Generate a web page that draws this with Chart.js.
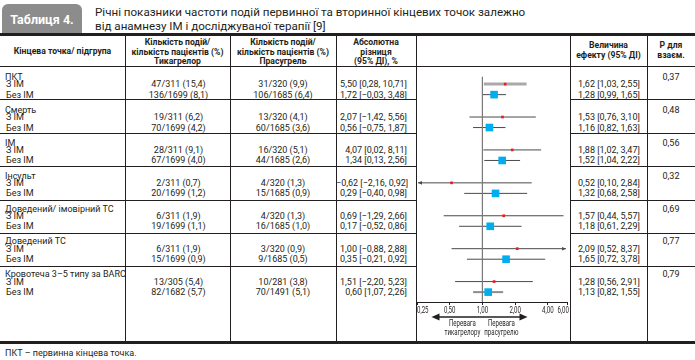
<!DOCTYPE html>
<html>
<head>
<meta charset="utf-8">
<script src="https://cdn.jsdelivr.net/npm/chart.js@4.4.0/dist/chart.umd.min.js"></script>
<style>
  body { margin: 0; background: #fff; }
  #page { position: relative; width: 695px; height: 360px; overflow: hidden;
          font-family: Roboto, 'Noto Sans', sans-serif; color: #231f20; }
  .t { position: absolute; white-space: nowrap; font-size: 9px; line-height: 10px; }
  .h { font-weight: bold; text-align: center; font-size: 8.6px; line-height: 9.6px; }
  .ln { position: absolute; background: #231f20; }
  #badge { position: absolute; left: 2px; top: 4px; width: 80px; height: 29px; background: #8c8c8c;
           border-radius: 6px 6px 0 0; color: #fff; font-weight: bold; font-size: 12.5px;
           line-height: 31px; text-align: center; }
  #title { position: absolute; left: 95px; top: 5px; font-size: 11.6px; line-height: 14px; color: #231f20; }
  #chart { position: absolute; left: 0; top: 0; }
</style>
</head>
<body>
<div id="page">
  <div id="badge">Таблиця 4.</div>
  <div id="title">Річні показники частоти подій первинної та вторинної кінцевих точок залежно<br>від анамнезу ІМ і досліджуваної терапії [9]</div>
  <canvas id="chart" width="695" height="360"></canvas>
</div>
<script>
// ---- data ----
const endpoints = ['ПКТ', 'Смерть', 'ІМ', 'Інсульт', 'Доведений/ імовірний ТС', 'Доведений ТС', 'Кровотеча 3–5 типу за BARC'];
const subgroups = ['З ІМ', 'Без ІМ'];
const ticagrelorEvents = ['47/311 (15,4)', '136/1699 (8,1)', '19/311 (6,2)', '70/1699 (4,2)', '28/311 (9,1)', '67/1699 (4,0)',
  '2/311 (0,7)', '20/1699 (1,2)', '6/311 (1,9)', '19/1699 (1,1)', '6/311 (1,9)', '15/1699 (0,9)', '13/305 (5,4)', '82/1682 (5,7)'];
const prasugrelEvents = ['31/320 (9,9)', '106/1685 (6,4)', '13/320 (4,1)', '60/1685 (3,6)', '16/320 (5,1)', '44/1685 (2,6)',
  '4/320 (1,3)', '15/1685 (0,9)', '4/320 (1,3)', '16/1685 (1,0)', '3/320 (0,9)', '9/1685 (0,5)', '10/281 (3,8)', '70/1491 (5,1)'];
const absDiff = ['5,50 [0,28, 10,71]', '1,72 [−0,03, 3,48]', '2,07 [−1,42, 5,56]', '0,56 [−0,75, 1,87]', '4,07 [0,02, 8,11]',
  '1,34 [0,13, 2,56]', '−0,62 [−2,16, 0,92]', '0,29 [−0,40, 0,98]', '0,69 [−1,29, 2,66]', '0,17 [−0,52, 0,86]',
  '1,00 [−0,88, 2,88]', '0,35 [−0,21, 0,92]', '1,51 [−2,20, 5,23]', '0,60 [1,07, 2,26]'];
const hrMid  = [1.62, 1.28, 1.53, 1.16, 1.88, 1.52, 0.52, 1.32, 1.57, 1.18, 2.09, 1.65, 1.28, 1.13];
const hrLow  = [1.03, 0.99, 0.76, 0.82, 1.02, 1.04, 0.10, 0.68, 0.44, 0.61, 0.52, 0.72, 0.56, 0.82];
const hrHigh = [2.55, 1.65, 3.10, 1.63, 3.47, 2.22, 2.84, 2.58, 5.57, 2.29, 8.37, 3.78, 2.91, 1.55];
const pInteraction = ['0,37', '0,48', '0,56', '0,32', '0,69', '0,77', '0,79'];
const xTicks = [0.25, 0.5, 1, 2, 4, 6];
const refValue = 1;

// ---- layout / style ----
const yMax = 7.17;
const titleOffset = 0.33, subOffset = [0.55, 0.87];
const pointColor = ['#ed1c24', '#00aeef'];
const pointSize = [1.9, 5.4];
const whiskerColor = i => i === 0 ? '#a9a9a9' : (i === 13 ? '#8c8c8c' : '#4a4a4a');
const whiskerWidth = i => i === 0 ? 3 : (i === 13 ? 2 : 1);
const fmt = v => v.toFixed(2).replace('.', ',');

const pts = [];
endpoints.forEach((e, g) => subgroups.forEach((s, k) => {
  const i = g * 2 + k;
  pts.push({ x: hrMid[i], y: g + subOffset[k] });
}));

// condensed text (the print uses a narrow face)
function narrowText(ctx, str, x, y, sx) {
  ctx.save();
  ctx.translate(x, y);
  ctx.scale(sx, 1);
  ctx.fillText(str, 0, 0);
  ctx.restore();
}

const whiskers = {
  id: 'whiskers',
  beforeDatasetsDraw(chart) {
    const { ctx, scales: { x, y } } = chart;
    ctx.save();
    hrMid.forEach((m, i) => {
      const yy = y.getPixelForValue(Math.floor(i / 2) + subOffset[i % 2]);
      const lo = Math.max(hrLow[i], x.min), hi = Math.min(hrHigh[i], x.max);
      const x0 = x.getPixelForValue(lo) + (hrLow[i] < x.min ? 1 : 0);
      const x1 = x.getPixelForValue(hi) - (hrHigh[i] > x.max ? 1 : 0);
      ctx.strokeStyle = whiskerColor(i);
      ctx.fillStyle = whiskerColor(i);
      ctx.lineWidth = whiskerWidth(i);
      ctx.beginPath(); ctx.moveTo(x0, yy); ctx.lineTo(x1, yy); ctx.stroke();
      if (hrLow[i] < x.min) {
        ctx.beginPath(); ctx.moveTo(x0, yy); ctx.lineTo(x0 + 4, yy - 1.8); ctx.lineTo(x0 + 4, yy + 1.8); ctx.fill();
      }
      if (hrHigh[i] > x.max) {
        ctx.beginPath(); ctx.moveTo(x1, yy); ctx.lineTo(x1 - 4, yy - 1.8); ctx.lineTo(x1 - 4, yy + 1.8); ctx.fill();
      }
    });
    ctx.restore();
  },
  afterDraw(chart) {
    const { ctx, chartArea, scales: { x } } = chart;
    ctx.save();
    ctx.fillStyle = '#231f20';
    ctx.textBaseline = 'middle';
    ctx.font = '8.5px Roboto, sans-serif';
    // tick labels from the scale's own ticks
    x.ticks.forEach((t, i) => {
      const px = x.getPixelForValue(t.value);
      ctx.textAlign = i === 0 ? 'left' : (i === x.ticks.length - 1 ? 'right' : 'center');
      narrowText(ctx, fmt(t.value), px + (i === x.ticks.length - 1 ? 2 : 0), chartArea.bottom + 8.5, 0.72);
    });
    // direction arrow and captions
    const c = x.getPixelForValue(refValue);
    const ay = chartArea.bottom + 15;
    const a0 = x.getPixelForValue(0.34), a1 = x.getPixelForValue(2.6);
    ctx.strokeStyle = '#231f20'; ctx.lineWidth = 1.6;
    ctx.beginPath(); ctx.moveTo(a0 + 5, ay); ctx.lineTo(a1 - 5, ay); ctx.stroke();
    ctx.beginPath(); ctx.moveTo(a0, ay); ctx.lineTo(a0 + 8, ay - 3.5); ctx.lineTo(a0 + 8, ay + 3.5); ctx.fill();
    ctx.beginPath(); ctx.moveTo(a1, ay); ctx.lineTo(a1 - 8, ay - 3.5); ctx.lineTo(a1 - 8, ay + 3.5); ctx.fill();
    ctx.textAlign = 'center';
    narrowText(ctx, 'Перевага', c - 20, ay + 7, 0.72);
    narrowText(ctx, 'тикагрелору', c - 20, ay + 15.5, 0.72);
    narrowText(ctx, 'Перевага', c + 19, ay + 7, 0.72);
    narrowText(ctx, 'прасугрелю', c + 19, ay + 15.5, 0.72);
    ctx.restore();
  }
};

const chart = new Chart(document.getElementById('chart'), {
  type: 'scatter',
  data: {
    datasets: [
      { type: 'line', data: [{ x: refValue, y: 0.33 }, { x: refValue, y: yMax }],
        borderColor: '#7a7a7a', borderWidth: 1, pointRadius: 0, showLine: true },
      { data: pts, pointStyle: 'rect', borderWidth: 0,
        pointRadius: pts.map((p, i) => pointSize[i % 2]),
        backgroundColor: pts.map((p, i) => pointColor[i % 2]) }
    ]
  },
  options: {
    responsive: false, animation: false,
    layout: { padding: { left: 417, right: 128, top: 66, bottom: 55 } },
    plugins: { legend: { display: false }, tooltip: { enabled: false } },
    scales: {
      x: {
        type: 'logarithmic', min: 0.25, max: 6,
        afterBuildTicks: s => { s.ticks = xTicks.map(v => ({ value: v })); },
        ticks: { display: false, autoSkip: false },
        grid: { drawOnChartArea: false, drawTicks: true, tickLength: 3, color: '#231f20' },
        border: { display: true, color: '#231f20', width: 1 }
      },
      y: { type: 'linear', min: 0, max: yMax, reverse: true, display: false }
    }
  },
  plugins: [whiskers]
});

// ---- table around the plot ----
const page = document.getElementById('page');
function text(str, x0, x1, yc, align, cls) {
  const d = document.createElement('div');
  d.className = 't' + (cls ? ' ' + cls : '');
  d.textContent = str;
  d.style.left = x0 + 'px';
  if (x1 !== null) { d.style.width = (x1 - x0) + 'px'; d.style.textAlign = align; }
  d.style.top = (yc - 5) + 'px';
  page.insertBefore(d, page.firstChild);
}
function line(x, y, w, h) {
  const d = document.createElement('div');
  d.className = 'ln';
  Object.assign(d.style, { left: x + 'px', top: y + 'px', width: w + 'px', height: h + 'px' });
  page.insertBefore(d, page.firstChild);
}
function header(lines, x0, x1, y0) {
  const d = document.createElement('div');
  d.className = 't h';
  d.innerHTML = lines.join('<br>');
  Object.assign(d.style, { left: x0 + 'px', width: (x1 - x0) + 'px', top: y0 + 'px' });
  page.insertBefore(d, page.firstChild);
}

const cols = [125, 230, 336, 416, 570, 647];
line(0, 33, 695, 3);
line(0, 341, 695, 3);
line(0, 66, 695, 1);
cols.forEach(c => line(c, 36, 1, 305));
for (let g = 1; g < endpoints.length; g++) {
  const yy = Math.round(66 + g * 33.4);
  line(0, yy, 416, 1);
  line(570, yy, 125, 1);
}

header(['Кінцева точка/ підгрупа'], 0, 125, 47);
header(['Кількість подій/', 'кількість пацієнтів (%)', 'Тикагрелор'], 125, 230, 38);
header(['Кількість подій/', 'кількість пацієнтів (%)', 'Прасугрель'], 230, 336, 38);
header(['Абсолютна', 'різниця', '(95% ДІ), %'], 336, 416, 38);
header(['Величина', 'ефекту (95% ДІ)'], 570, 647, 41);
header(['Р для', 'взаєм.'], 647, 695, 41);

const ys = chart.scales.y;
endpoints.forEach((e, g) => {
  const ty = ys.getPixelForValue(g + titleOffset);
  text(e, 5, null, ty);
  text(pInteraction[g], 647, 695, ty, 'center');
  subgroups.forEach((s, k) => {
    const i = g * 2 + k;
    const yy = ys.getPixelForValue(g + subOffset[k]);
    text(' ' + s, 6, null, yy);
    text(ticagrelorEvents[i], 125, 232, yy, 'center');
    text(prasugrelEvents[i], 230, 336, yy, 'center');
    text(absDiff[i], 336, 407, yy, 'right');
    text(fmt(hrMid[i]) + ' [' + fmt(hrLow[i]) + ', ' + fmt(hrHigh[i]) + ']', 578, null, yy);
  });
});
text('ПКТ – первинна кінцева точка.', 5, null, 353);
</script>
</body>
</html>
